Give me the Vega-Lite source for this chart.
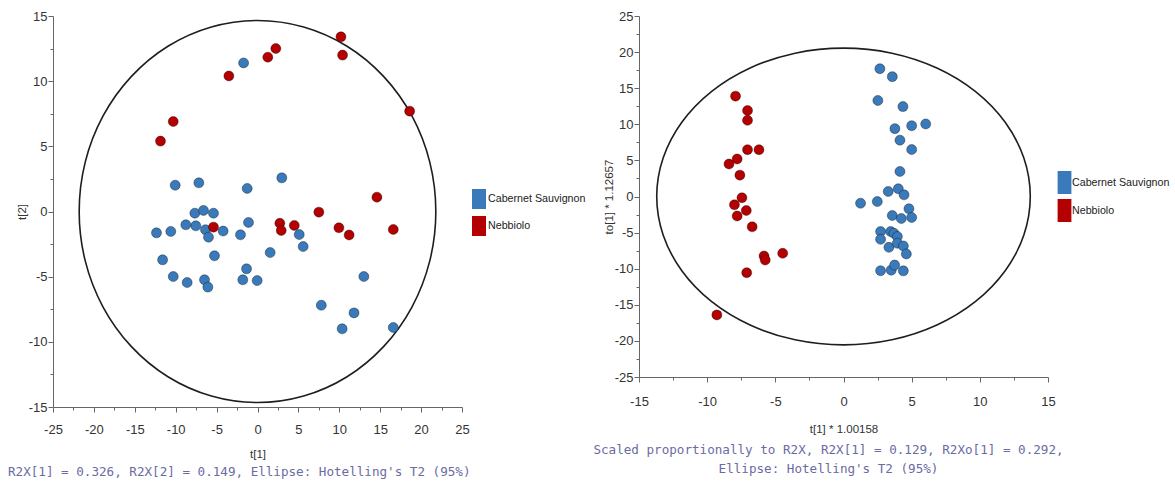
{
  "$schema": "https://vega.github.io/schema/vega-lite/v6.json",
  "padding": {"left": 8, "top": 10, "right": 2, "bottom": 2},
  "background": "white",
  "spacing": 177,
  "bounds": "flush",
  "datasets": {
    "pca": [
      {"x": -1.7, "y": 11.4, "class": "Cabernet Sauvignon"},
      {"x": -10.06, "y": 2.02, "class": "Cabernet Sauvignon"},
      {"x": -7.17, "y": 2.2, "class": "Cabernet Sauvignon"},
      {"x": -1.26, "y": 1.77, "class": "Cabernet Sauvignon"},
      {"x": 2.97, "y": 2.58, "class": "Cabernet Sauvignon"},
      {"x": -7.66, "y": -0.13, "class": "Cabernet Sauvignon"},
      {"x": -6.6, "y": 0.08, "class": "Cabernet Sauvignon"},
      {"x": -5.38, "y": -0.13, "class": "Cabernet Sauvignon"},
      {"x": -8.76, "y": -1.02, "class": "Cabernet Sauvignon"},
      {"x": -7.54, "y": -1.1, "class": "Cabernet Sauvignon"},
      {"x": -6.36, "y": -1.4, "class": "Cabernet Sauvignon"},
      {"x": -5.99, "y": -1.97, "class": "Cabernet Sauvignon"},
      {"x": -4.2, "y": -1.5, "class": "Cabernet Sauvignon"},
      {"x": -12.35, "y": -1.64, "class": "Cabernet Sauvignon"},
      {"x": -10.6, "y": -1.53, "class": "Cabernet Sauvignon"},
      {"x": -2.08, "y": -1.79, "class": "Cabernet Sauvignon"},
      {"x": -1.1, "y": -0.84, "class": "Cabernet Sauvignon"},
      {"x": -11.6, "y": -3.71, "class": "Cabernet Sauvignon"},
      {"x": -5.26, "y": -3.4, "class": "Cabernet Sauvignon"},
      {"x": -10.3, "y": -4.99, "class": "Cabernet Sauvignon"},
      {"x": -8.6, "y": -5.45, "class": "Cabernet Sauvignon"},
      {"x": -6.48, "y": -5.24, "class": "Cabernet Sauvignon"},
      {"x": -6.07, "y": -5.8, "class": "Cabernet Sauvignon"},
      {"x": -1.34, "y": -4.4, "class": "Cabernet Sauvignon"},
      {"x": -1.8, "y": -5.24, "class": "Cabernet Sauvignon"},
      {"x": -0.04, "y": -5.3, "class": "Cabernet Sauvignon"},
      {"x": 1.55, "y": -3.15, "class": "Cabernet Sauvignon"},
      {"x": 5.1, "y": -1.77, "class": "Cabernet Sauvignon"},
      {"x": 5.58, "y": -2.69, "class": "Cabernet Sauvignon"},
      {"x": 13.0, "y": -4.99, "class": "Cabernet Sauvignon"},
      {"x": 7.8, "y": -7.19, "class": "Cabernet Sauvignon"},
      {"x": 11.8, "y": -7.78, "class": "Cabernet Sauvignon"},
      {"x": 10.35, "y": -9.0, "class": "Cabernet Sauvignon"},
      {"x": 16.6, "y": -8.9, "class": "Cabernet Sauvignon"},
      {"x": -11.86, "y": 5.4, "class": "Nebbiolo"},
      {"x": -10.3, "y": 6.9, "class": "Nebbiolo"},
      {"x": -3.5, "y": 10.4, "class": "Nebbiolo"},
      {"x": 1.26, "y": 11.84, "class": "Nebbiolo"},
      {"x": 2.24, "y": 12.5, "class": "Nebbiolo"},
      {"x": 10.2, "y": 13.4, "class": "Nebbiolo"},
      {"x": 10.4, "y": 12.0, "class": "Nebbiolo"},
      {"x": 18.6, "y": 7.7, "class": "Nebbiolo"},
      {"x": 14.6, "y": 1.1, "class": "Nebbiolo"},
      {"x": 7.5, "y": -0.05, "class": "Nebbiolo"},
      {"x": -5.38, "y": -1.2, "class": "Nebbiolo"},
      {"x": 2.73, "y": -0.9, "class": "Nebbiolo"},
      {"x": 2.9, "y": -1.46, "class": "Nebbiolo"},
      {"x": 4.5, "y": -1.07, "class": "Nebbiolo"},
      {"x": 9.95, "y": -1.25, "class": "Nebbiolo"},
      {"x": 11.2, "y": -1.8, "class": "Nebbiolo"},
      {"x": 16.6, "y": -1.38, "class": "Nebbiolo"}
    ],
    "opls": [
      {"x": 2.67, "y": 17.7, "class": "Cabernet Sauvignon"},
      {"x": 3.58, "y": 16.6, "class": "Cabernet Sauvignon"},
      {"x": 2.52, "y": 13.3, "class": "Cabernet Sauvignon"},
      {"x": 4.36, "y": 12.45, "class": "Cabernet Sauvignon"},
      {"x": 3.77, "y": 9.4, "class": "Cabernet Sauvignon"},
      {"x": 5.0, "y": 9.8, "class": "Cabernet Sauvignon"},
      {"x": 6.03, "y": 10.05, "class": "Cabernet Sauvignon"},
      {"x": 4.14, "y": 7.8, "class": "Cabernet Sauvignon"},
      {"x": 5.0, "y": 6.5, "class": "Cabernet Sauvignon"},
      {"x": 4.14, "y": 3.47, "class": "Cabernet Sauvignon"},
      {"x": 4.02, "y": 1.07, "class": "Cabernet Sauvignon"},
      {"x": 3.28, "y": 0.7, "class": "Cabernet Sauvignon"},
      {"x": 4.44, "y": 0.23, "class": "Cabernet Sauvignon"},
      {"x": 1.25, "y": -0.93, "class": "Cabernet Sauvignon"},
      {"x": 2.48, "y": -0.7, "class": "Cabernet Sauvignon"},
      {"x": 4.8, "y": -1.7, "class": "Cabernet Sauvignon"},
      {"x": 5.0, "y": -2.9, "class": "Cabernet Sauvignon"},
      {"x": 3.58, "y": -2.64, "class": "Cabernet Sauvignon"},
      {"x": 4.24, "y": -3.05, "class": "Cabernet Sauvignon"},
      {"x": 2.72, "y": -4.86, "class": "Cabernet Sauvignon"},
      {"x": 2.72, "y": -5.93, "class": "Cabernet Sauvignon"},
      {"x": 3.46, "y": -4.86, "class": "Cabernet Sauvignon"},
      {"x": 3.7, "y": -5.1, "class": "Cabernet Sauvignon"},
      {"x": 3.95, "y": -5.55, "class": "Cabernet Sauvignon"},
      {"x": 3.33, "y": -7.04, "class": "Cabernet Sauvignon"},
      {"x": 3.95, "y": -6.48, "class": "Cabernet Sauvignon"},
      {"x": 4.39, "y": -6.85, "class": "Cabernet Sauvignon"},
      {"x": 4.61, "y": -7.96, "class": "Cabernet Sauvignon"},
      {"x": 2.72, "y": -10.28, "class": "Cabernet Sauvignon"},
      {"x": 3.5, "y": -10.2, "class": "Cabernet Sauvignon"},
      {"x": 3.75, "y": -9.5, "class": "Cabernet Sauvignon"},
      {"x": 4.39, "y": -10.3, "class": "Cabernet Sauvignon"},
      {"x": -7.92, "y": 13.9, "class": "Nebbiolo"},
      {"x": -7.04, "y": 11.9, "class": "Nebbiolo"},
      {"x": -7.04, "y": 10.55, "class": "Nebbiolo"},
      {"x": -7.04, "y": 6.48, "class": "Nebbiolo"},
      {"x": -6.2, "y": 6.48, "class": "Nebbiolo"},
      {"x": -7.8, "y": 5.2, "class": "Nebbiolo"},
      {"x": -8.4, "y": 4.5, "class": "Nebbiolo"},
      {"x": -7.6, "y": 2.96, "class": "Nebbiolo"},
      {"x": -7.45, "y": -0.18, "class": "Nebbiolo"},
      {"x": -8.0, "y": -1.15, "class": "Nebbiolo"},
      {"x": -7.13, "y": -1.94, "class": "Nebbiolo"},
      {"x": -7.8, "y": -2.7, "class": "Nebbiolo"},
      {"x": -6.7, "y": -4.2, "class": "Nebbiolo"},
      {"x": -5.83, "y": -8.24, "class": "Nebbiolo"},
      {"x": -5.74, "y": -8.8, "class": "Nebbiolo"},
      {"x": -4.46, "y": -7.87, "class": "Nebbiolo"},
      {"x": -7.1, "y": -10.55, "class": "Nebbiolo"},
      {"x": -9.29, "y": -16.4, "class": "Nebbiolo"}
    ],
    "ell1": [
      {"i": 0, "x": 21.8, "y": 0}, {"i": 1, "x": 21.06, "y": 3.79}, {"i": 2, "x": 18.88, "y": 7.33},
      {"i": 3, "x": 15.41, "y": 10.37}, {"i": 4, "x": 10.9, "y": 12.7}, {"i": 5, "x": 5.64, "y": 14.16},
      {"i": 6, "x": 0, "y": 14.66}, {"i": 7, "x": -5.64, "y": 14.16}, {"i": 8, "x": -10.9, "y": 12.7},
      {"i": 9, "x": -15.41, "y": 10.37}, {"i": 10, "x": -18.88, "y": 7.33}, {"i": 11, "x": -21.06, "y": 3.79},
      {"i": 12, "x": -21.8, "y": 0}, {"i": 13, "x": -21.06, "y": -3.79}, {"i": 14, "x": -18.88, "y": -7.33},
      {"i": 15, "x": -15.41, "y": -10.37}, {"i": 16, "x": -10.9, "y": -12.7}, {"i": 17, "x": -5.64, "y": -14.16},
      {"i": 18, "x": 0, "y": -14.66}, {"i": 19, "x": 5.64, "y": -14.16}, {"i": 20, "x": 10.9, "y": -12.7},
      {"i": 21, "x": 15.41, "y": -10.37}, {"i": 22, "x": 18.88, "y": -7.33}, {"i": 23, "x": 21.06, "y": -3.79}
    ],
    "ell2": [
      {"i": 0, "x": 13.7, "y": 0}, {"i": 1, "x": 13.23, "y": 5.32}, {"i": 2, "x": 11.86, "y": 10.28},
      {"i": 3, "x": 9.69, "y": 14.53}, {"i": 4, "x": 6.85, "y": 17.8}, {"i": 5, "x": 3.55, "y": 19.85},
      {"i": 6, "x": 0, "y": 20.55}, {"i": 7, "x": -3.55, "y": 19.85}, {"i": 8, "x": -6.85, "y": 17.8},
      {"i": 9, "x": -9.69, "y": 14.53}, {"i": 10, "x": -11.86, "y": 10.28}, {"i": 11, "x": -13.23, "y": 5.32},
      {"i": 12, "x": -13.7, "y": 0}, {"i": 13, "x": -13.23, "y": -5.32}, {"i": 14, "x": -11.86, "y": -10.28},
      {"i": 15, "x": -9.69, "y": -14.53}, {"i": 16, "x": -6.85, "y": -17.8}, {"i": 17, "x": -3.55, "y": -19.85},
      {"i": 18, "x": 0, "y": -20.55}, {"i": 19, "x": 3.55, "y": -19.85}, {"i": 20, "x": 6.85, "y": -17.8},
      {"i": 21, "x": 9.69, "y": -14.53}, {"i": 22, "x": 11.86, "y": -10.28}, {"i": 23, "x": 13.23, "y": -5.32}
    ]
  },
  "resolve": {
    "scale": {"x": "independent", "y": "independent", "fill": "independent"},
    "legend": {"fill": "independent"}
  },
  "hconcat": [
    {
      "width": 409,
      "height": 391,
      "title": {
        "text": "R2X[1] = 0.326, R2X[2] = 0.149, Ellipse: Hotelling's T2 (95%)",
        "orient": "bottom",
        "anchor": "start",
        "frame": "group",
        "dx": -45,
        "offset": 6
      },
      "layer": [
        {
          "mark": {"type": "rule", "color": "#8c8c8c", "strokeWidth": 1},
          "encoding": {"x": {"datum": 0, "type": "quantitative"}}
        },
        {
          "mark": {"type": "rule", "color": "#8c8c8c", "strokeWidth": 1},
          "encoding": {"y": {"datum": 0, "type": "quantitative"}}
        },
        {
          "data": {"name": "ell1"},
          "mark": {"type": "line", "interpolate": "cardinal-closed", "color": "#1e1e1e", "strokeWidth": 1.6},
          "encoding": {
            "x": {"field": "x", "type": "quantitative"},
            "y": {"field": "y", "type": "quantitative"},
            "order": {"field": "i", "type": "quantitative"}
          }
        },
        {
          "data": {"name": "pca"},
          "mark": {"type": "point", "shape": "circle", "filled": true, "size": 100, "opacity": 1, "stroke": "#000000", "strokeOpacity": 0.35, "strokeWidth": 1},
          "encoding": {
            "x": {
              "field": "x", "type": "quantitative",
              "scale": {"domain": [-25, 25], "nice": false, "zero": false},
              "axis": {
                "title": "t[1]",
                "tickCount": 100,
                "labelOverlap": false,
                "labelFlush": false,
                "labelPadding": 11,
                "titlePadding": 12,
                "values": [-25, -22.5, -20, -17.5, -15, -12.5, -10, -7.5, -5, -2.5, 0, 2.5, 5, 7.5, 10, 12.5, 15, 17.5, 20, 22.5, 25]
              }
            },
            "y": {
              "field": "y", "type": "quantitative",
              "scale": {"domain": [-15, 15], "nice": false, "zero": false},
              "axis": {
                "title": "t[2]",
                "tickCount": 100,
                "labelOverlap": false,
                "labelFlush": false,
                "values": [-15, -12.5, -10, -7.5, -5, -2.5, 0, 2.5, 5, 7.5, 10, 12.5, 15]
              }
            },
            "fill": {
              "field": "class", "type": "nominal",
              "scale": {"domain": ["Cabernet Sauvignon", "Nebbiolo"], "range": ["#3a7abb", "#b40000"]},
              "legend": {
                "orient": "none", "legendX": 416, "legendY": 173,
                "symbolType": "M-0.7,-1H0.7V1H-0.7Z", "symbolSize": 400, "rowPadding": 7, "labelOffset": -1
              }
            }
          }
        }
      ]
    },
    {
      "width": 409,
      "height": 361,
      "title": {
        "text": ["Scaled proportionally to R2X, R2X[1] = 0.129, R2Xo[1] = 0.292,", "Ellipse: Hotelling's T2 (95%)"],
        "orient": "bottom",
        "anchor": "middle",
        "frame": "group",
        "dx": -15,
        "offset": 9
      },
      "layer": [
        {
          "mark": {"type": "rule", "color": "#8c8c8c", "strokeWidth": 1},
          "encoding": {"x": {"datum": 0, "type": "quantitative"}}
        },
        {
          "mark": {"type": "rule", "color": "#8c8c8c", "strokeWidth": 1},
          "encoding": {"y": {"datum": 0, "type": "quantitative"}}
        },
        {
          "data": {"name": "ell2"},
          "mark": {"type": "line", "interpolate": "cardinal-closed", "color": "#1e1e1e", "strokeWidth": 1.6},
          "encoding": {
            "x": {"field": "x", "type": "quantitative"},
            "y": {"field": "y", "type": "quantitative"},
            "order": {"field": "i", "type": "quantitative"}
          }
        },
        {
          "data": {"name": "opls"},
          "mark": {"type": "point", "shape": "circle", "filled": true, "size": 100, "opacity": 1, "stroke": "#000000", "strokeOpacity": 0.35, "strokeWidth": 1},
          "encoding": {
            "x": {
              "field": "x", "type": "quantitative",
              "scale": {"domain": [-15, 15], "nice": false, "zero": false},
              "axis": {
                "title": "t[1] * 1.00158",
                "tickCount": 100,
                "labelOverlap": false,
                "labelFlush": false,
                "labelPadding": 13,
                "titlePadding": 15,
                "values": [-15, -12.5, -10, -7.5, -5, -2.5, 0, 2.5, 5, 7.5, 10, 12.5, 15]
              }
            },
            "y": {
              "field": "y", "type": "quantitative",
              "scale": {"domain": [-25, 25], "nice": false, "zero": false},
              "axis": {
                "title": "to[1] * 1.12657",
                "tickCount": 100,
                "labelOverlap": false,
                "labelFlush": false,
                "titlePadding": 0,
                "values": [-25, -22.5, -20, -17.5, -15, -12.5, -10, -7.5, -5, -2.5, 0, 2.5, 5, 7.5, 10, 12.5, 15, 17.5, 20, 22.5, 25]
              }
            },
            "fill": {
              "field": "class", "type": "nominal",
              "scale": {"domain": ["Cabernet Sauvignon", "Nebbiolo"], "range": ["#3a7abb", "#b40000"]},
              "legend": {
                "orient": "none", "legendX": 414, "legendY": 155,
                "symbolType": "M-0.6,-1H0.6V1H-0.6Z", "symbolSize": 529, "rowPadding": 5, "labelOffset": -4
              }
            }
          }
        }
      ]
    }
  ],
  "config": {
    "view": {"stroke": null},
    "axis": {
      "grid": false,
      "domainColor": "#666666",
      "tickColor": "#666666",
      "tickSize": {"condition": {"test": "datum.value % 5 === 0", "value": 5}, "value": 3},
      "labelExpr": "datum.value % 5 === 0 ? '' + datum.value : ''",
      "labelFont": "Liberation Sans",
      "labelFontSize": 13,
      "labelColor": "#333333",
      "labelFlush": false,
      "labelOverlap": false,
      "titleFont": "Liberation Sans",
      "titleFontSize": 11.5,
      "titleFontWeight": "normal",
      "titleColor": "#333333"
    },
    "axisY": {"labelPadding": 1, "titlePadding": 1},
    "legend": {
      "title": null,
      "symbolStrokeWidth": 0,
      "symbolOpacity": 1,
      "labelFont": "Liberation Sans",
      "labelFontSize": 10.7,
      "labelColor": "#222222",
      "padding": 0
    },
    "title": {
      "font": "DejaVu Sans Mono",
      "fontSize": 12.6,
      "fontWeight": "normal",
      "color": "#6b6ba3",
      "lineHeight": 19
    }
  }
}
